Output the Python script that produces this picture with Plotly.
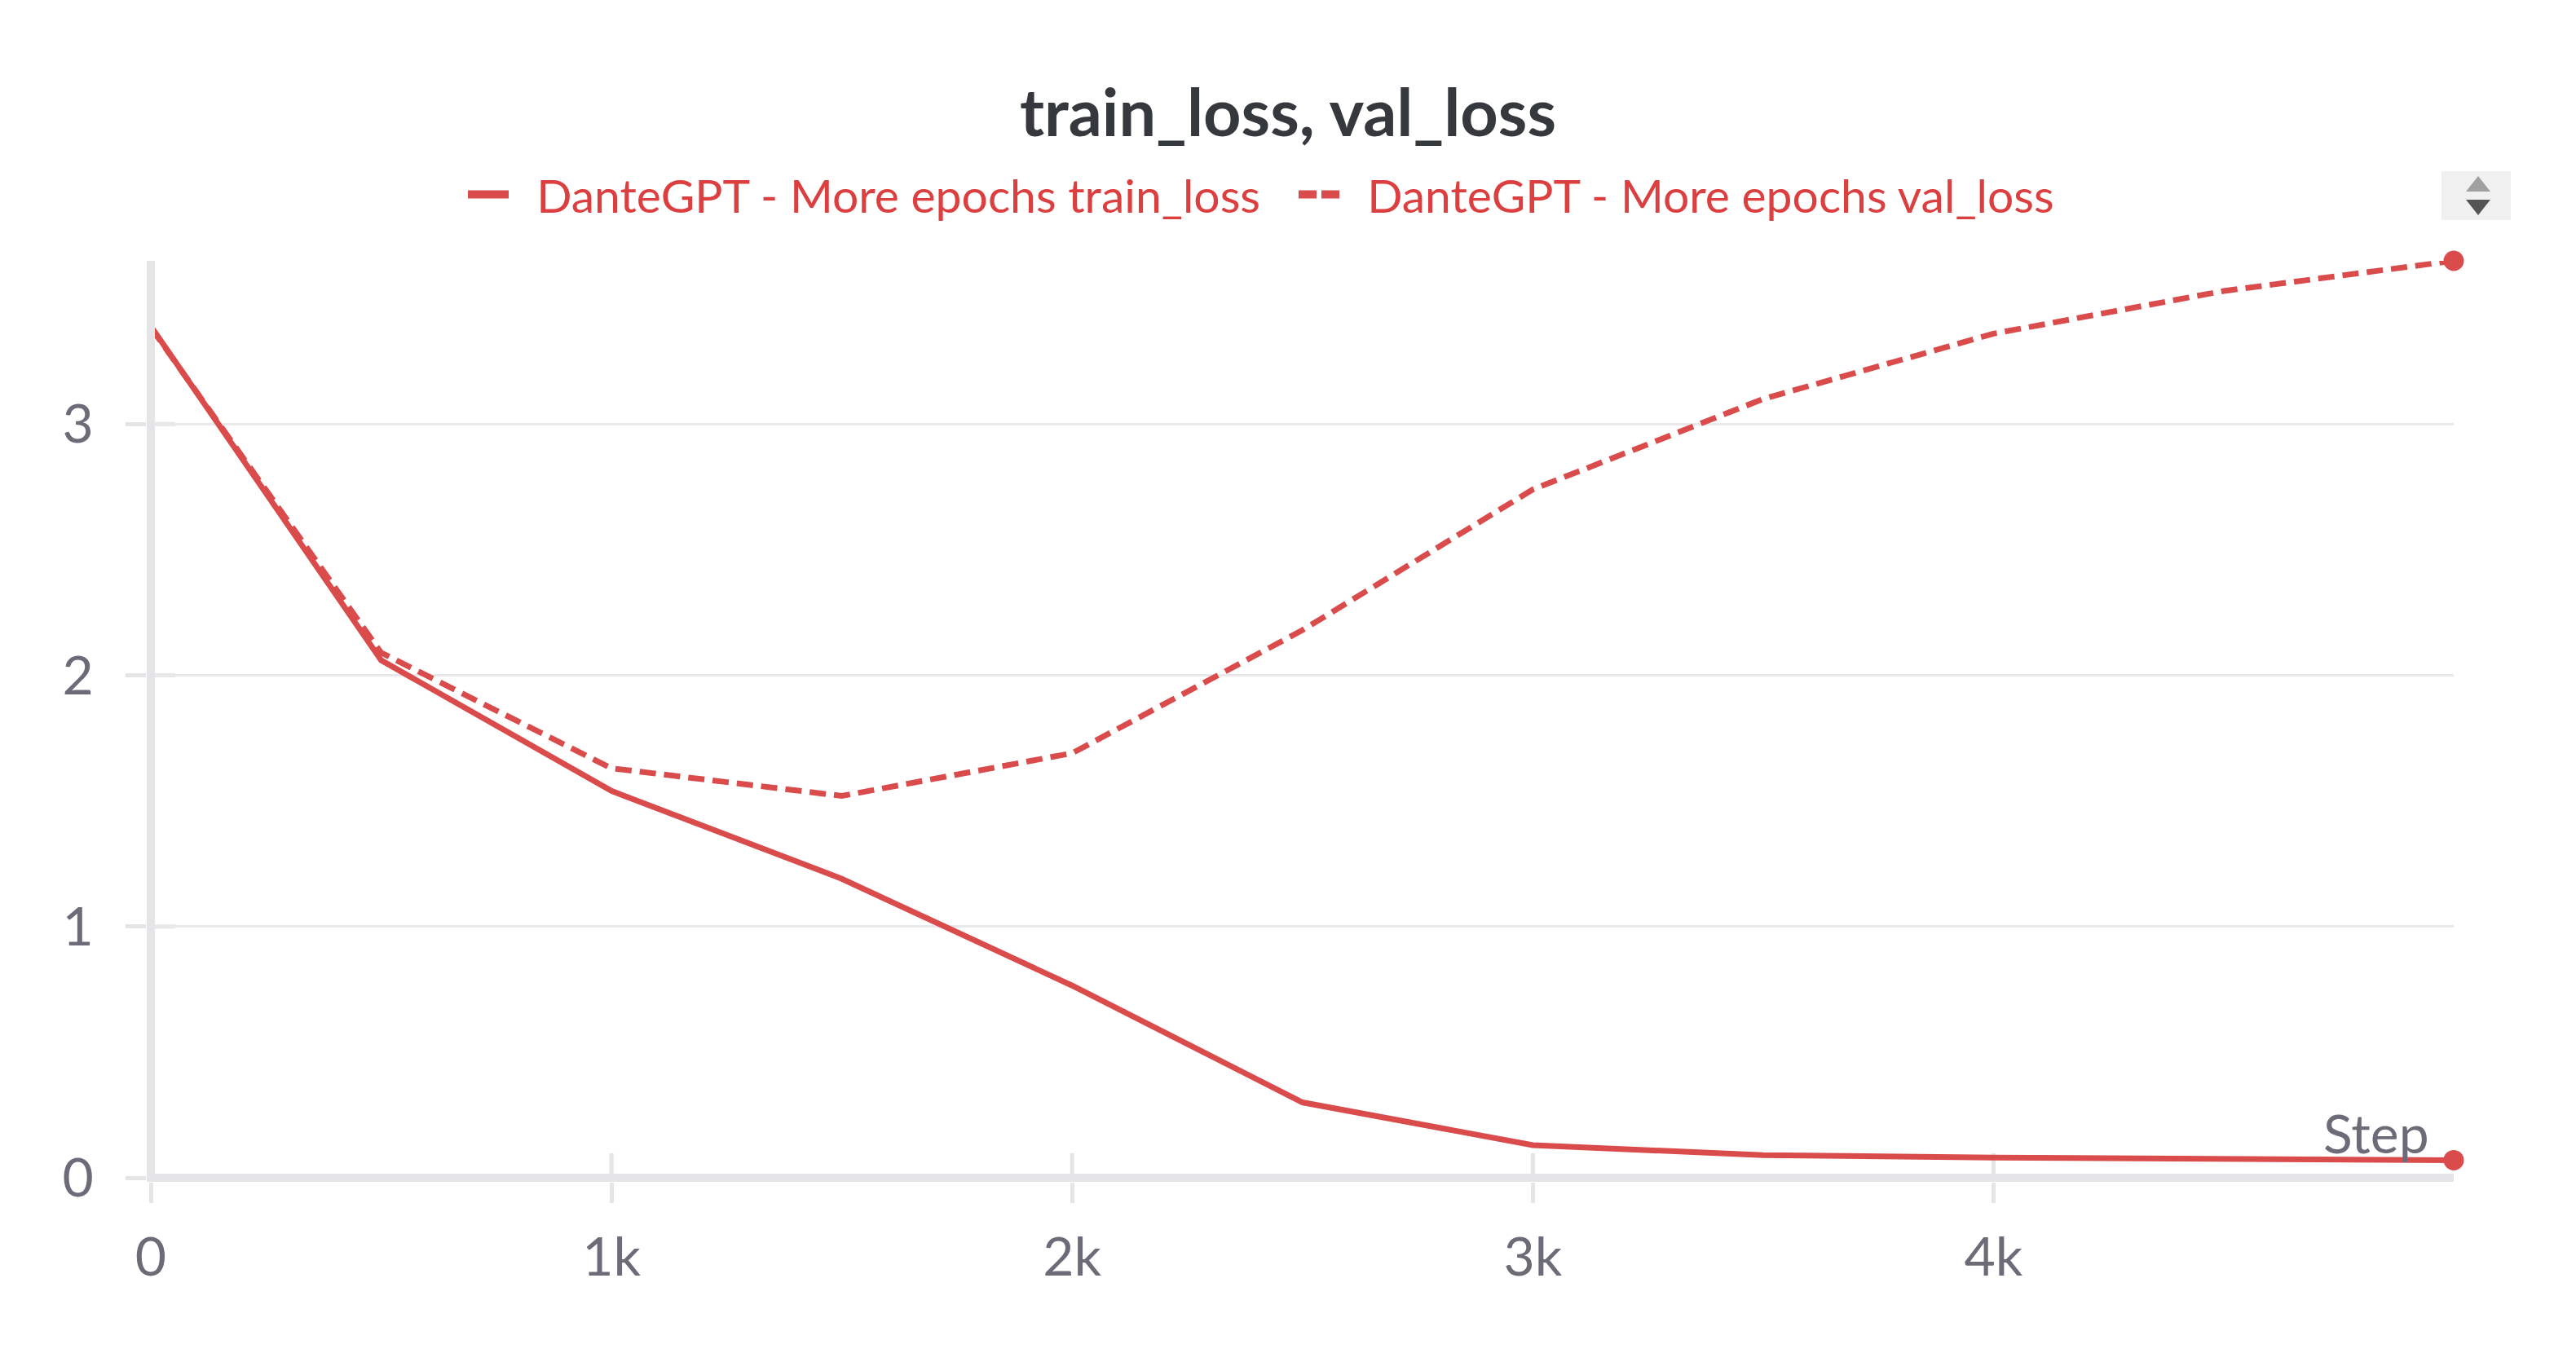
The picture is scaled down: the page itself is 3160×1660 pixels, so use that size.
import plotly.graph_objects as go

steps = [0, 500, 1000, 1500, 2000, 2500, 3000, 3500, 4000, 4500, 4999]
train_loss = [3.39, 2.06, 1.54, 1.19, 0.765, 0.30, 0.13, 0.09, 0.08, 0.075, 0.07]
val_loss = [3.385, 2.09, 1.63, 1.52, 1.69, 2.18, 2.74, 3.10, 3.36, 3.53, 3.65]
x_ticks = [0, 1000, 2000, 3000, 4000]
x_labels = ["0", "1k", "2k", "3k", "4k"]
y_ticks = [0, 1, 2, 3]
y_labels = ["0", "1", "2", "3"]
title = "train_loss, val_loss"
train_name = "\u00a0\u00a0DanteGPT - More epochs train_loss"
val_name = "\u00a0\u00a0DanteGPT - More epochs val_loss"

W, H = 3160, 1660
OFF = 8  # the page body adds this offset
L, R, T, B = 180 - OFF, 3010 - OFF, 320 - OFF, 1450 - OFF
X0_PX, Y0_PX = 185 - OFF, 1445 - OFF
RED = "#da4b4b"
LEG = "#dc3f3f"
AXIS = "#e5e5e8"
GRID = "#e9e9eb"
TEXT = "#6b6c77"
FONT = "Lato"

px_per_step = (R - X0_PX) / steps[-1]
px_per_unit = (Y0_PX - T) / max(val_loss)
x_range = [-(X0_PX - L) / px_per_step, steps[-1]]
y_range = [-(B - Y0_PX) / px_per_unit, max(val_loss)]

def fx(p):
    return (p - OFF - L) / (R - L)

def fy(p):
    return (B - (p - OFF)) / (B - T)

fig = go.Figure()
fig.add_trace(go.Scatter(x=steps, y=train_loss, mode="lines", showlegend=False, name=train_name.strip(),
                         cliponaxis=False, line=dict(color=RED, width=7)))
fig.add_trace(go.Scatter(x=steps, y=val_loss, mode="lines", showlegend=False, name=val_name.strip(),
                         cliponaxis=False, line=dict(color=RED, width=7, dash="20px,10px")))
fig.add_trace(go.Scatter(x=[steps[-1]], y=[train_loss[-1]], mode="markers", showlegend=False, cliponaxis=False,
                         marker=dict(color=RED, size=25), hoverinfo="skip"))
fig.add_trace(go.Scatter(x=[steps[-1]], y=[val_loss[-1]], mode="markers", showlegend=False, cliponaxis=False,
                         marker=dict(color=RED, size=25), hoverinfo="skip"))
# legend keys
fig.add_trace(go.Scatter(x=[None], y=[None], mode="lines", name=train_name,
                         line=dict(color=RED, width=10)))
fig.add_trace(go.Scatter(x=[None], y=[None], mode="lines", name=val_name,
                         line=dict(color=RED, width=10, dash="22px,6px")))

shapes = []
# y axis line above the curves
shapes.append(dict(type="line", xref="x", yref="y", x0=0, x1=0, y0=0, y1=max(val_loss),
                   line=dict(color=AXIS, width=10), layer="above"))
# inner halves of ticks
for v in x_ticks[1:]:
    shapes.append(dict(type="line", xref="x", yref="y", xsizemode="scaled", ysizemode="pixel", yanchor=0,
                       x0=v, x1=v, y0=0, y1=30, line=dict(color=AXIS, width=5), layer="below"))
for v in y_ticks[1:]:
    shapes.append(dict(type="line", xref="x", yref="y", xsizemode="pixel", xanchor=0,
                       x0=0, x1=30, y0=v, y1=v, line=dict(color=AXIS, width=5), layer="below"))
# scroll control of the legend
shapes.append(dict(type="rect", xref="paper", yref="paper", x0=fx(2995), x1=fx(3080), y0=fy(270), y1=fy(210),
                   fillcolor="#f0f0f0", line=dict(width=0)))
shapes.append(dict(type="path", xref="paper", yref="paper", fillcolor="#a0a0a0", line=dict(width=0),
                   path=f"M {fx(3025)} {fy(235)} L {fx(3055)} {fy(235)} L {fx(3040)} {fy(216)} Z"))
shapes.append(dict(type="path", xref="paper", yref="paper", fillcolor="#555555", line=dict(width=0),
                   path=f"M {fx(3025)} {fy(245)} L {fx(3055)} {fy(245)} L {fx(3040)} {fy(264)} Z"))

fig.update_layout(
    width=W, height=H, autosize=False,
    margin=dict(l=L, r=W - R, t=T, b=H - B, pad=0),
    paper_bgcolor="white", plot_bgcolor="white",
    font=dict(family=FONT, color=TEXT, size=66),
    title=dict(text=f"<b>{title}</b>", x=(1580 - OFF) / W, xref="container", xanchor="center",
               y=1 - (139 - OFF) / H, yref="container", yanchor="middle",
               font=dict(family=FONT, size=81, color="#35383c")),
    legend=dict(orientation="h", xref="container", yref="container", x=(574 - OFF - 5) / W, y=1 - (239 - OFF) / H,
                xanchor="left", yanchor="middle", itemwidth=50, entrywidth=954, entrywidthmode="pixels",
                font=dict(family=FONT, size=57, color=LEG),
                bgcolor="rgba(0,0,0,0)", borderwidth=0),
    xaxis=dict(range=x_range, tickmode="array", tickvals=x_ticks, ticktext=x_labels,
               showgrid=False, zeroline=False, showline=False,
               ticks="outside", ticklen=25, tickwidth=5, tickcolor=AXIS,
               ticklabelstandoff=10, tickfont=dict(family=FONT, size=66, color=TEXT)),
    yaxis=dict(range=y_range, tickmode="array", tickvals=y_ticks, ticktext=y_labels,
               showgrid=True, gridcolor=GRID, gridwidth=3,
               zeroline=True, zerolinecolor=AXIS, zerolinewidth=10, showline=False,
               ticks="outside", ticklen=25, tickwidth=5, tickcolor=AXIS,
               ticklabelstandoff=26, tickfont=dict(family=FONT, size=66, color=TEXT)),
    shapes=shapes,
    annotations=[dict(text="Step", xref="paper", yref="paper", x=fx(2982), y=fy(1389),
                      xanchor="right", yanchor="middle", showarrow=False,
                      font=dict(family=FONT, size=66, color=TEXT))],
)
fig.write_html("out.html")
